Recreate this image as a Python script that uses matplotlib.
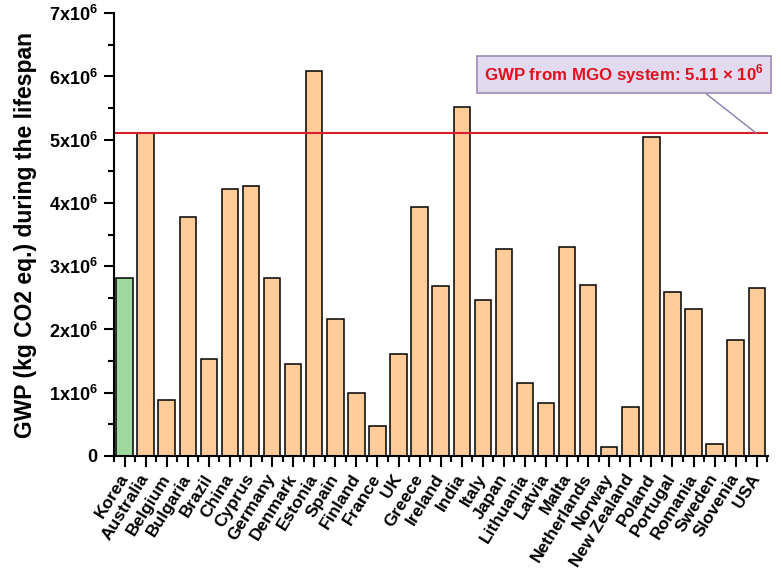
import numpy as np
import matplotlib
matplotlib.use('Agg')
import matplotlib.pyplot as plt
from matplotlib.ticker import FuncFormatter, MultipleLocator

plt.rcParams['font.family'] = ['Liberation Sans', 'DejaVu Sans']
plt.rcParams['font.weight'] = 'bold'
plt.rcParams['mathtext.fontset'] = 'custom'
plt.rcParams['mathtext.bf'] = 'Liberation Sans:bold'
plt.rcParams['mathtext.rm'] = 'Liberation Sans:bold'

# Data GWP per negara (x10^6 kg CO2 eq.)
negara = ['Korea', 'Australia', 'Belgium', 'Bulgaria', 'Brazil', 'China', 'Cyprus',
          'Germany', 'Denmark', 'Estonia', 'Spain', 'Finland', 'France', 'UK',
          'Greece', 'Ireland', 'India', 'Italy', 'Japan', 'Lithuania', 'Latvia',
          'Malta', 'Netherlands', 'Norway', 'New Zealand', 'Poland', 'Portugal',
          'Romania', 'Sweden', 'Slovenia', 'USA']
gwp = [2.81, 5.10, 0.89, 3.78, 1.54, 4.22, 4.27, 2.82, 1.45, 6.08, 2.17,
       1.00, 0.48, 1.61, 3.93, 2.69, 5.51, 2.47, 3.28, 1.16, 0.84, 3.31,
       2.71, 0.14, 0.77, 5.04, 2.60, 2.33, 0.19, 1.84, 2.65]
gwp_mgo = 5.11

nilai = np.array(gwp) * 1e6
warna = ['#9ED89E'] + ['#FFCC99'] * (len(negara) - 1)

fig = plt.figure(figsize=(7.81, 5.75), dpi=100)
ax = fig.add_axes([0.146, 0.207, 0.837, 0.770])

x = np.arange(len(negara))
ax.bar(x, nilai, width=0.78, color=warna, edgecolor='black', linewidth=1.1)
ax.axhline(gwp_mgo * 1e6, color='#D81E28', linewidth=1.5)

ax.set_xlim(-0.47, len(negara) - 0.48)
ax.set_ylim(0, 7e6)
ax.set_xticks(x)
ax.set_xticklabels(negara, rotation=58, ha='right', va='center',
                   rotation_mode='anchor', fontsize=12.5)
ax.set_xticks(np.arange(-0.5, len(negara), 1.0), minor=True)
ax.yaxis.set_major_locator(MultipleLocator(1e6))
ax.yaxis.set_minor_locator(MultipleLocator(5e5))


def format_y(v, pos):
    n = int(round(v / 1e6))
    if n == 0:
        return '0'
    return r'$\mathbf{%dx10^6}$' % n


ax.yaxis.set_major_formatter(FuncFormatter(format_y))
ax.tick_params(axis='y', labelsize=13, width=1.5, length=7, pad=5)
ax.tick_params(axis='y', which='minor', width=1.5, length=4)
ax.tick_params(axis='x', width=1.5, length=8, pad=6)
ax.tick_params(axis='x', which='minor', width=1.5, length=4)

for s in ['top', 'right']:
    ax.spines[s].set_visible(False)
for s in ['left', 'bottom']:
    ax.spines[s].set_linewidth(1.5)

ax.set_ylabel('GWP (kg CO2 eq.) during the lifespan', fontsize=16.5,
              fontweight='bold', labelpad=8)

ax.annotate(r'GWP from MGO system: 5.11 × 10$^{\mathbf{6}}$',
            xy=(29.95, gwp_mgo * 1e6), xytext=(23.7, 6.03e6),
            ha='center', va='center', color='#E0101E', fontsize=12.2,
            fontweight='bold', annotation_clip=False,
            bbox=dict(boxstyle='square,pad=0.42', fc='#E2DAEE', ec='#9A8AB4', lw=1.2),
            arrowprops=dict(arrowstyle='-', color='#8A7AAA', lw=1.0,
                            relpos=(0.76, 0.0), shrinkA=0, shrinkB=0))

fig.savefig('out.png', dpi=100)
